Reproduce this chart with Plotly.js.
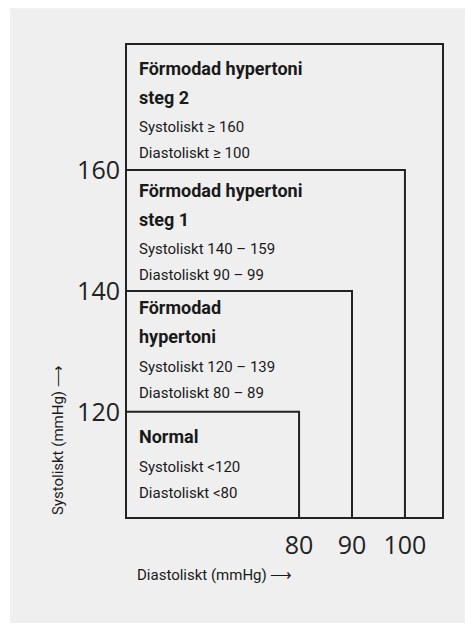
<!DOCTYPE html>
<html>
<head>
<meta charset="utf-8">
<script src="https://cdn.plot.ly/plotly-3.0.1.min.js"></script>
<style>html,body{margin:0;padding:0;background:#fff;}#chart{width:473px;height:626px;}</style>
</head>
<body>
<div id="chart"></div>
<script>
// ---- data ----
const categoryTitles = [
  ['Normal'],
  ['Förmodad', 'hypertoni'],
  ['Förmodad hypertoni', 'steg 1'],
  ['Förmodad hypertoni', 'steg 2']
];
const systolicText = ['Systoliskt <120', 'Systoliskt 120 – 139', 'Systoliskt 140 – 159', 'Systoliskt ≥ 160'];
const diastolicText = ['Diastoliskt <80', 'Diastoliskt 80 – 89', 'Diastoliskt 90 – 99', 'Diastoliskt ≥ 100'];
const systolicUpper = [120, 140, 160];   // upper systolic bound of each inner box
const diastolicUpper = [80, 90, 100];    // upper diastolic bound of each inner box
const yTickVals = [120, 140, 160];
const xTickVals = [80, 90, 100];
const xTitle = 'Diastoliskt (mmHg) ⟶';
const yTitle = 'Systoliskt (mmHg) ⟶';

// ---- layout constants ----
const xRange = [47.5, 107];
const yRange = [102.6, 180.7];
const lineColor = '#222';
const panelColor = '#efefef';
const textFont = 'Roboto, "Open Sans", sans-serif';

const traces = systolicUpper.map((s, i) => ({
  type: 'scatter', mode: 'lines',
  x: [xRange[0], diastolicUpper[i], diastolicUpper[i]],
  y: [s, s, yRange[0]],
  line: {color: lineColor, width: 2},
  hoverinfo: 'skip', showlegend: false, cliponaxis: false
}));

const annotations = [];
const firstOffset = [25, 17, 20, 23];
categoryTitles.forEach((titles, i) => {
  const top = i < systolicUpper.length ? {y: systolicUpper[i], yref: 'y'} : {y: 1, yref: 'paper'};
  let off = firstOffset[i];
  const lines = [];
  titles.forEach((t, k) => { lines.push({text: '<b>' + t + '</b>', off: off, size: 18}); off += 29; });
  off += 1;
  lines.push({text: systolicText[i], off: off, size: 15}); off += 26;
  lines.push({text: diastolicText[i], off: off, size: 15});
  lines.forEach(l => annotations.push({
    xref: 'paper', x: 0, xanchor: 'left', xshift: 10,
    yref: top.yref, y: top.y, yanchor: 'middle', yshift: -l.off,
    text: l.text, showarrow: false,
    font: {family: textFont, size: l.size, color: '#1a1a1a'}
  }));
});
annotations.push({
  xref: 'paper', x: 0.278, xanchor: 'center', yref: 'paper', y: -0.123, yanchor: 'middle',
  text: xTitle, showarrow: false,
  font: {family: textFont, size: 15, color: '#1a1a1a'}
});
annotations.push({
  xref: 'paper', x: -0.219, xanchor: 'center', yref: 'paper', y: 0.163, yanchor: 'middle',
  text: yTitle, showarrow: false, textangle: -90,
  font: {family: textFont, size: 15, color: '#1a1a1a'}
});

const layout = {
  width: 473, height: 626,
  margin: {l: 127, r: 31, t: 45, b: 109},
  paper_bgcolor: '#ffffff',
  plot_bgcolor: panelColor,
  showlegend: false,
  xaxis: {
    range: xRange, tickvals: xTickVals, ticks: '', showgrid: false, zeroline: false,
    showline: true, mirror: true, linecolor: lineColor, linewidth: 2,
    tickfont: {family: '"Open Sans", sans-serif', size: 25, color: '#222'},
    ticklabelstandoff: 5, fixedrange: true
  },
  yaxis: {
    range: yRange, tickvals: yTickVals, ticks: '', showgrid: false, zeroline: false,
    showline: true, mirror: true, linecolor: lineColor, linewidth: 2,
    tickfont: {family: '"Open Sans", sans-serif', size: 25, color: '#222'},
    ticklabelstandoff: 0, fixedrange: true
  },
  shapes: [{
    type: 'rect', xref: 'paper', yref: 'paper', layer: 'below',
    x0: -0.371, x1: 1.073, y0: -0.2246, y1: 1.078,
    fillcolor: panelColor, line: {width: 0}
  }],
  annotations: annotations
};

Plotly.newPlot('chart', traces, layout, {displayModeBar: false, staticPlot: true});
</script>
</body>
</html>
